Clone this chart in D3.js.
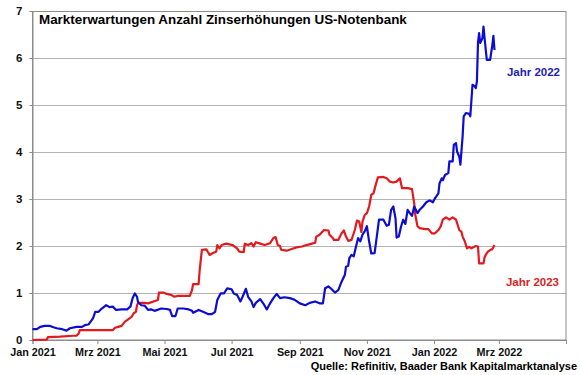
<!DOCTYPE html>
<html><head><meta charset="utf-8">
<script src="https://cdn.jsdelivr.net/npm/d3@7"></script>
<style>
body{margin:0;background:#fff}
text{font-family:"Liberation Sans",Arial,sans-serif;font-weight:bold}
</style>
</head><body>
<svg id="c" width="580" height="375"></svg>
<script>
const title = "Markterwartungen Anzahl Zinserhöhungen US-Notenbank";
const source = "Quelle: Refinitiv, Baader Bank Kapitalmarktanalyse";
const yTicks = [0,1,2,3,4,5,6,7];
const xTickDates = ["2021-01-01","2021-03-01","2021-05-01","2021-07-01","2021-09-01","2021-11-01","2022-01-01","2022-03-01","2022-05-01"];
const xTickLabels = ["Jan 2021","Mrz 2021","Mai 2021","Jul 2021","Sep 2021","Nov 2021","Jan 2022","Mrz 2022",""];
const seriesNames = ["Jahr 2022","Jahr 2023"];

const jahr2022 = [
["2021-01-01",0.23],["2021-01-05",0.23],["2021-01-08",0.28],["2021-01-12",0.30],["2021-01-17",0.30],["2021-01-20",0.27],
["2021-01-23",0.25],["2021-01-28",0.23],["2021-02-01",0.20],["2021-02-04",0.25],["2021-02-10",0.28],["2021-02-15",0.28],
["2021-02-18",0.32],["2021-02-21",0.33],["2021-02-24",0.43],["2021-02-25",0.46],["2021-02-27",0.60],["2021-03-02",0.60],
["2021-03-05",0.67],["2021-03-09",0.74],["2021-03-12",0.70],["2021-03-15",0.71],["2021-03-18",0.64],["2021-03-23",0.65],
["2021-03-28",0.65],["2021-03-31",0.71],["2021-04-02",0.89],["2021-04-04",0.99],["2021-04-06",0.92],["2021-04-07",0.80],
["2021-04-10",0.74],["2021-04-13",0.73],["2021-04-16",0.64],["2021-04-19",0.65],["2021-04-22",0.62],["2021-04-28",0.67],
["2021-05-03",0.66],["2021-05-06",0.64],["2021-05-08",0.51],["2021-05-11",0.51],["2021-05-13",0.67],["2021-05-18",0.67],
["2021-05-23",0.65],["2021-05-26",0.62],["2021-05-27",0.58],["2021-06-01",0.64],["2021-06-05",0.60],["2021-06-10",0.55],
["2021-06-13",0.55],["2021-06-16",0.60],["2021-06-18",0.85],["2021-06-21",0.99],["2021-06-24",0.99],["2021-06-27",1.10],
["2021-07-01",1.08],["2021-07-03",0.99],["2021-07-06",0.96],["2021-07-09",0.82],["2021-07-11",0.92],["2021-07-14",1.09],
["2021-07-16",0.92],["2021-07-19",0.82],["2021-07-21",0.70],["2021-07-23",0.79],["2021-07-27",0.87],["2021-07-30",0.77],
["2021-08-02",0.65],["2021-08-05",0.78],["2021-08-08",0.89],["2021-08-11",0.98],["2021-08-14",0.89],["2021-08-18",0.91],
["2021-08-23",0.89],["2021-08-27",0.86],["2021-09-01",0.78],["2021-09-06",0.74],["2021-09-10",0.79],["2021-09-15",0.82],
["2021-09-19",0.78],["2021-09-22",0.78],["2021-09-24",1.10],["2021-09-27",1.14],["2021-09-30",1.08],["2021-10-03",1.01],
["2021-10-06",1.06],["2021-10-09",1.24],["2021-10-12",1.39],["2021-10-13",1.56],["2021-10-15",1.58],["2021-10-16",1.74],
["2021-10-18",1.81],["2021-10-20",1.78],["2021-10-22",1.98],["2021-10-24",2.17],["2021-10-26",2.10],["2021-10-28",2.24],
["2021-10-30",2.31],["2021-11-01",2.42],["2021-11-03",2.10],["2021-11-05",1.84],["2021-11-08",1.85],["2021-11-10",2.20],
["2021-11-12",2.56],["2021-11-16",2.56],["2021-11-19",2.43],["2021-11-21",2.45],["2021-11-23",2.77],["2021-11-25",2.84],
["2021-11-27",2.59],["2021-11-28",2.18],["2021-11-30",2.20],["2021-12-02",2.41],["2021-12-04",2.56],["2021-12-06",2.47],
["2021-12-08",2.77],["2021-12-10",2.70],["2021-12-12",2.64],["2021-12-14",2.84],["2021-12-17",2.70],["2021-12-19",2.77],
["2021-12-22",2.84],["2021-12-25",2.93],["2021-12-28",2.97],["2021-12-31",2.93],["2022-01-02",3.02],["2022-01-05",3.12],
["2022-01-06",3.33],["2022-01-08",3.44],["2022-01-09",3.40],["2022-01-11",3.51],["2022-01-14",3.55],["2022-01-15",3.80],
["2022-01-18",3.80],["2022-01-19",4.15],["2022-01-21",4.19],["2022-01-22",4.01],["2022-01-24",3.90],["2022-01-25",3.73],
["2022-01-27",4.33],["2022-01-28",4.76],["2022-01-30",4.83],["2022-02-02",4.81],["2022-02-03",4.76],["2022-02-05",5.43],
["2022-02-07",5.40],["2022-02-08",5.36],["2022-02-09",5.50],["2022-02-10",6.32],["2022-02-11",6.53],["2022-02-12",6.32],
["2022-02-14",6.42],["2022-02-15",6.67],["2022-02-16",6.42],["2022-02-18",5.96],["2022-02-21",5.96],["2022-02-23",6.27],
["2022-02-24",6.47],["2022-02-25",6.17]
];

const jahr2023 = [
["2021-01-01",0.00],["2021-01-14",0.01],["2021-01-15",0.06],["2021-01-26",0.07],["2021-02-07",0.09],["2021-02-10",0.09],
["2021-02-12",0.14],["2021-02-13",0.21],["2021-03-15",0.21],["2021-03-17",0.26],["2021-03-20",0.28],["2021-03-23",0.30],
["2021-03-26",0.39],["2021-03-29",0.44],["2021-04-01",0.49],["2021-04-03",0.57],["2021-04-05",0.60],["2021-04-06",0.74],
["2021-04-07",0.79],["2021-04-13",0.79],["2021-04-16",0.78],["2021-04-21",0.82],["2021-04-25",0.85],["2021-04-26",1.01],
["2021-04-30",1.01],["2021-05-03",0.98],["2021-05-07",0.96],["2021-05-10",0.92],["2021-05-13",0.94],["2021-05-24",0.94],
["2021-05-26",1.06],["2021-05-27",1.19],["2021-06-01",1.19],["2021-06-02",1.49],["2021-06-04",1.92],["2021-06-08",1.93],
["2021-06-11",1.81],["2021-06-14",1.85],["2021-06-17",1.88],["2021-06-18",2.02],["2021-06-20",1.95],["2021-06-22",2.02],
["2021-06-26",2.05],["2021-07-02",2.02],["2021-07-06",1.95],["2021-07-08",1.88],["2021-07-12",1.87],["2021-07-13",2.05],
["2021-07-16",2.02],["2021-07-19",2.06],["2021-07-21",1.99],["2021-07-23",2.08],["2021-07-27",2.05],["2021-07-31",2.02],
["2021-08-05",2.06],["2021-08-08",2.17],["2021-08-10",2.19],["2021-08-12",2.02],["2021-08-14",2.00],["2021-08-15",1.92],
["2021-08-20",1.90],["2021-08-24",1.93],["2021-08-29",1.97],["2021-09-03",1.99],["2021-09-07",2.02],["2021-09-12",2.05],
["2021-09-15",2.07],["2021-09-16",2.20],["2021-09-19",2.24],["2021-09-23",2.34],["2021-09-27",2.33],["2021-09-28",2.24],
["2021-10-01",2.17],["2021-10-02",2.13],["2021-10-06",2.13],["2021-10-09",2.27],["2021-10-11",2.33],["2021-10-13",2.20],
["2021-10-15",2.11],["2021-10-18",2.13],["2021-10-21",2.34],["2021-10-23",2.54],["2021-10-25",2.52],["2021-10-27",2.30],
["2021-10-28",2.52],["2021-10-30",2.66],["2021-11-01",2.70],["2021-11-03",2.84],["2021-11-05",3.09],["2021-11-07",3.12],
["2021-11-09",3.30],["2021-11-11",3.46],["2021-11-16",3.47],["2021-11-19",3.44],["2021-11-22",3.37],["2021-11-25",3.35],
["2021-11-28",3.37],["2021-12-01",3.44],["2021-12-02",3.33],["2021-12-03",3.23],["2021-12-08",3.23],["2021-12-12",3.21],
["2021-12-14",2.91],["2021-12-15",2.66],["2021-12-17",2.42],["2021-12-19",2.38],["2021-12-24",2.36],["2021-12-27",2.36],
["2021-12-30",2.27],["2022-01-02",2.27],["2022-01-05",2.34],["2022-01-07",2.41],["2022-01-09",2.56],["2022-01-12",2.61],
["2022-01-15",2.56],["2022-01-18",2.61],["2022-01-21",2.56],["2022-01-24",2.34],["2022-01-26",2.30],["2022-01-27",2.20],
["2022-01-29",2.10],["2022-01-31",1.95],["2022-02-02",1.98],["2022-02-04",1.95],["2022-02-08",2.00],["2022-02-10",1.99],
["2022-02-11",1.63],["2022-02-15",1.63],["2022-02-16",1.76],["2022-02-17",1.81],["2022-02-19",1.88],["2022-02-22",1.93],
["2022-02-23",1.93],["2022-02-25",2.02]
];

const parse = d3.utcParse("%Y-%m-%d");
const svg = d3.select("#c");
const L = 32.5, R = 566, T = 11, B = 340;

const x = d3.scaleUtc().domain([parse("2021-01-01"), parse("2022-05-01")]).range([L, R]);
const y = d3.scaleLinear().domain([0, 7]).range([B, T]);

// gridlines
svg.append("g").selectAll("line").data(yTicks.filter(v => v > 0 && v < 7)).join("line")
  .attr("x1", L - 3).attr("x2", R).attr("y1", d => Math.round(y(d)) + 0.5).attr("y2", d => Math.round(y(d)) + 0.5)
  .attr("stroke", "#b3b3b3").attr("stroke-width", 1);

// frame
svg.append("rect").attr("x", L).attr("y", T + 0.5).attr("width", R - L).attr("height", B - T - 0.5)
  .attr("fill", "none").attr("stroke", "#8c8c8c").attr("stroke-width", 1);

// y axis
const yAxis = d3.axisLeft(y).tickValues(yTicks).tickSize(3).tickPadding(7).tickFormat(d3.format("d"));
const gy = svg.append("g").attr("transform", `translate(${L},0)`).call(yAxis);
gy.select(".domain").attr("stroke", "#8c8c8c");
gy.selectAll(".tick line").attr("stroke", "#8c8c8c");
gy.selectAll("text").attr("font-size", 11.5).attr("fill", "#111").style("font-weight", "bold");

// x axis
const xAxis = d3.axisBottom(x).tickValues(xTickDates.map(parse)).tickSize(4).tickPadding(4)
  .tickFormat((d, i) => xTickLabels[i]);
const gx = svg.append("g").attr("transform", `translate(0,${B})`).call(xAxis);
gx.select(".domain").attr("stroke", "#8c8c8c");
gx.selectAll(".tick line").attr("stroke", "#8c8c8c");
gx.selectAll("text").attr("font-size", 10.8).attr("fill", "#111").style("font-weight", "bold");

// lines
const line = d3.line().x(d => x(parse(d[0]))).y(d => y(d[1]));
svg.append("path").datum(jahr2023).attr("d", line).attr("fill", "none")
  .attr("stroke", "#e3191e").attr("stroke-width", 2.2).attr("stroke-linejoin", "round");
svg.append("path").datum(jahr2022).attr("d", line).attr("fill", "none")
  .attr("stroke", "#0c0cd2").attr("stroke-width", 2.2).attr("stroke-linejoin", "round");

// series labels
svg.append("text").attr("x", 560).attr("y", 76).attr("text-anchor", "end")
  .attr("font-size", 11.5).attr("fill", "#1e1eb4").text(seriesNames[0]);
svg.append("text").attr("x", 559).attr("y", 286).attr("text-anchor", "end")
  .attr("font-size", 11.5).attr("fill", "#d82424").text(seriesNames[1]);

// title
svg.append("text").attr("x", 39).attr("y", 24).attr("font-size", 13.4).attr("fill", "#000").text(title);

// source
svg.append("text").attr("x", 577).attr("y", 370).attr("text-anchor", "end")
  .attr("font-size", 11).attr("fill", "#000").text(source);
</script>
</body></html>
